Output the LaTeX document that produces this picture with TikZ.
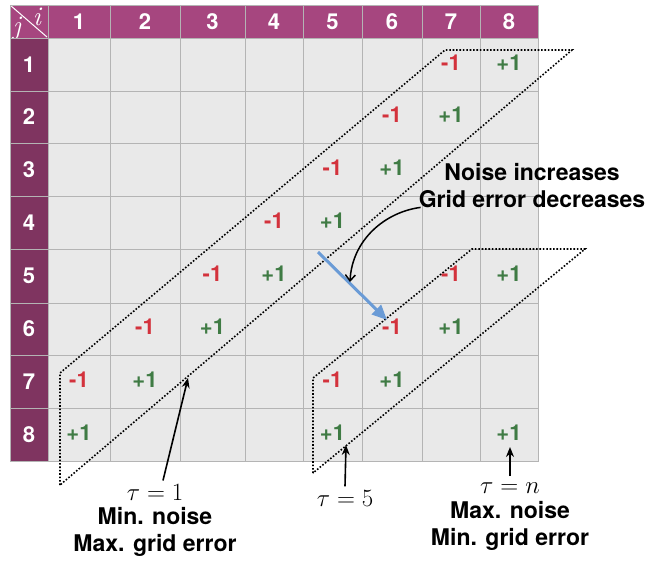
\documentclass[tikz,border=0pt]{standalone}
\usepackage{amsmath}
\usepackage{fontspec}
\setsansfont{TeX Gyre Heros}
\usepackage{xcolor}
\usetikzlibrary{arrows.meta, positioning}

\definecolor{hdrtop}{HTML}{A6467F}
\definecolor{hdrside}{HTML}{7F3460}
\definecolor{cellbg}{HTML}{E9E9E9}
\definecolor{gridln}{HTML}{B4B4B4}
\definecolor{negred}{HTML}{D3323C}
\definecolor{posgreen}{HTML}{3F7B44}
\definecolor{arrowblue}{HTML}{6A9BD6}

\begin{document}
\begin{tikzpicture}[x=1pt,y=-1pt,
  every node/.style={font=\sffamily\bfseries},
  cell/.style={draw=gridln,fill=cellbg,line width=1pt},
  colhead/.style={draw=gridln,fill=hdrtop,line width=1pt},
  rowhead/.style={draw=gridln,fill=hdrside,line width=1pt},
  hnum/.style={text=white,font=\sffamily\bfseries\fontsize{22}{22}\selectfont},
  idx/.style={text=white,inner sep=0pt,font=\rmfamily\itshape\fontsize{27}{27}\selectfont},
  negval/.style={text=negred,yshift=2pt,font=\sffamily\bfseries\fontsize{22}{22}\selectfont},
  posval/.style={text=posgreen,yshift=2pt,font=\sffamily\bfseries\fontsize{22}{22}\selectfont},
  band/.style={line width=1.6pt,dash pattern=on 1.6pt off 1.8pt},
  taulbl/.style={font=\fontsize{24.88}{25}\selectfont},
  desc/.style={align=center,font=\sffamily\bfseries\fontsize{23}{27}\selectfont},
  pointer/.style={-{Stealth[length=10pt,width=8pt]},line width=1.6pt}]
 \useasboundingbox (0,0) rectangle (646,563);
 % header corner
 \draw[colhead] (10,5) rectangle (48,38);
 \draw[white,line width=1pt] (10,5) -- (47,37);
 \node[idx] (ilbl) at (37,17) {i};
 \node[idx] (jlbl) at (17,28) {j};
 % grid
 \foreach \i/\xa/\xb in {1/48/110,2/110/180,3/180/245,4/245/303,5/303/362,6/362/422,7/422/480,8/480/538}{
   \draw[colhead] (\xa,5) rectangle (\xb,38);
   \node[hnum] (ch\i) at ({(\xa+\xb)/2},21.5) {\i};
   \foreach \j/\ya/\yb in {1/38/91,2/91/143,3/143/196,4/196/249,5/249/303,6/303/355,7/355/408,8/408/461}{
     \draw[cell] (\xa,\ya) rectangle (\xb,\yb);
     \coordinate (c\j-\i) at ({(\xa+\xb)/2},{(\ya+\yb)/2});
   }
 }
 \foreach \j/\ya/\yb in {1/38/91,2/91/143,3/143/196,4/196/249,5/249/303,6/303/355,7/355/408,8/408/461}{
   \draw[rowhead] (10,\ya) rectangle (48,\yb);
   \node[hnum] (rh\j) at (29,{(\ya+\yb)/2}) {\j};
 }
 \draw[gridln,line width=1pt] (10,5) rectangle (538,461);
 % entries
 \foreach \j/\i/\s/\v in {1/7/negval/-1,1/8/posval/+1,2/6/negval/-1,2/7/posval/+1,
   3/5/negval/-1,3/6/posval/+1,4/4/negval/-1,4/5/posval/+1,5/3/negval/-1,5/4/posval/+1,
   5/7/negval/-1,5/8/posval/+1,6/2/negval/-1,6/3/posval/+1,6/6/negval/-1,6/7/posval/+1,
   7/1/negval/-1,7/2/posval/+1,7/5/negval/-1,7/6/posval/+1,8/1/posval/+1,8/5/posval/+1,8/8/posval/+1}
   \node[\s] (e\j-\i) at (c\j-\i) {\v};
 % dotted bands
 \coordinate (ba1) at (60,485);
 \coordinate (bb1) at (60,373);
 \coordinate (bc1) at (445,50);
 \coordinate (bd1) at (572,50);
 \draw[band] (ba1) -- (bb1) -- (bc1) -- (bd1) -- cycle;
 \coordinate (ba5) at (313,473);
 \coordinate (bb5) at (313,378);
 \coordinate (bc5) at (472,249);
 \coordinate (bd5) at (585,249);
 \draw[band] (ba5) -- (bb5) -- (bc5) -- (bd5) -- cycle;
 % labels
 \node[taulbl] (t1) at (155,492) {$\tau=1$};
 \node[desc,below=0pt of t1] (d1) {Min. noise\\Max. grid error};
 \node[taulbl] (t5) at (345,498) {$\tau=5$};
 \node[taulbl] (tn) at (510,488) {$\tau=n$};
 \node[desc,below=1pt of tn] (dn) {Max. noise\\Min. grid error};
 \node[desc,inner sep=1pt] (noise) at (532,186) {Noise increases\\Grid error decreases};
 % pointers
 \coordinate (p1) at (188,378);
 \coordinate (p5) at (346,445);
 \coordinate (pn) at (510,447);
 \draw[pointer] ([xshift=8pt]t1.north) -- (p1);
 \draw[pointer] (t5.north) -- (p5);
 \draw[pointer] ([yshift=3pt]tn.north) -- (pn);
 \coordinate (bstart) at (318,252);
 \coordinate (bend) at (387,320);
 \draw[arrowblue,line width=3pt,-{Triangle[length=15pt,width=13pt]}] (bstart) -- (bend);
 \coordinate (ctip) at (350,282);
 \draw[line width=1.5pt,-{Straight Barb[length=6pt,width=10pt]}] ([xshift=3pt,yshift=2pt]noise.south west) .. controls (385,212) and (352,240) .. (ctip);
\end{tikzpicture}
\end{document}
